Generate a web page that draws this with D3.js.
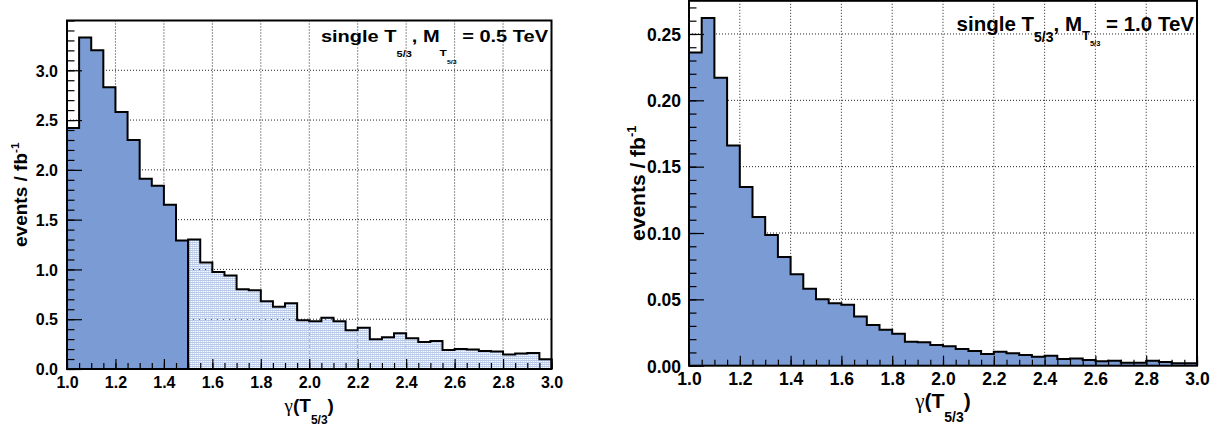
<!DOCTYPE html>
<html><head><meta charset="utf-8">
<script src="https://cdn.jsdelivr.net/npm/d3@7/dist/d3.min.js"></script>
<style>
body{margin:0;background:#fff;}
svg{display:block;font-family:"Liberation Sans",Arial,sans-serif;font-weight:bold;}
</style></head><body>
<svg id="chart" width="1222" height="429"></svg>
<script>
// ---- data ----
const binEdges = [1.00,1.05,1.10,1.15,1.20,1.25,1.30,1.35,1.40,1.45,1.50,1.55,1.60,1.65,1.70,1.75,1.80,1.85,1.90,1.95,
                  2.00,2.05,2.10,2.15,2.20,2.25,2.30,2.35,2.40,2.45,2.50,2.55,2.60,2.65,2.70,2.75,2.80,2.85,2.90,2.95,3.00];
// single T5/3, M = 0.5 TeV (events / fb^-1)
const leftValues = [2.42,3.33,3.20,2.83,2.58,2.30,1.91,1.84,1.65,1.29,
                    1.30,1.07,0.975,0.94,0.80,0.79,0.68,0.625,0.66,0.49,
                    0.48,0.515,0.48,0.39,0.415,0.30,0.32,0.36,0.31,0.27,
                    0.28,0.19,0.20,0.195,0.18,0.175,0.145,0.155,0.16,0.097];
const leftSplit = 1.5;   // gamma below this: solid fill, above: hatched
// single T5/3, M = 1.0 TeV (events / fb^-1)
const rightValues = [0.236,0.262,0.217,0.166,0.1346,0.112,0.0985,0.082,0.069,0.058,
                     0.050,0.047,0.046,0.037,0.0306,0.027,0.024,0.018,0.0176,0.0156,
                     0.0146,0.0126,0.011,0.0088,0.0105,0.0093,0.008,0.0068,0.0075,0.005,
                     0.0055,0.0043,0.0033,0.0038,0.0023,0.0023,0.0038,0.0028,0.0018,0.0018];
const xMajorTicks = [1.0,1.2,1.4,1.6,1.8,2.0,2.2,2.4,2.6,2.8,3.0];
const xTickLabels = ["1.0","1.2","1.4","1.6","1.8","2.0","2.2","2.4","2.6","2.8","3.0"];
const leftYTicks = [0,0.5,1.0,1.5,2.0,2.5,3.0];
const leftYTickLabels = ["0.0","0.5","1.0","1.5","2.0","2.5","3.0"];
const rightYTicks = [0,0.05,0.10,0.15,0.20,0.25];
const rightYTickLabels = ["0.00","0.05","0.10","0.15","0.20","0.25"];
const leftMass = "0.5";
const rightMass = "1.0";
const yTitle = "events / fb";
const ySup = "-1";

// ---- drawing ----
const svg = d3.select("#chart");
const defs = svg.append("defs");
const pat = defs.append("pattern").attr("id","hatch").attr("patternUnits","userSpaceOnUse")
  .attr("width",2).attr("height",2);
pat.append("rect").attr("x",0).attr("y",0).attr("width",2).attr("height",1).attr("fill","#b9c9ea");
pat.append("rect").attr("x",0).attr("y",1).attr("width",1).attr("height",1).attr("fill","#d3def3");

const SOLID = "#7a9bd3";

function drawPanel(cfg){
  const g = svg.append("g");
  const x = d3.scaleLinear().domain([1,3]).range([cfg.x0,cfg.x1]);
  const y = d3.scaleLinear().domain([0,cfg.ymax]).range([cfg.yb,cfg.yt]);

  // grid
  g.selectAll(".gx").data(xMajorTicks.filter(t=>t>1.001 && t<2.999)).enter().append("line")
    .attr("x1",d=>x(d)).attr("x2",d=>x(d)).attr("y1",cfg.yt).attr("y2",cfg.yb)
    .attr("stroke","#222").attr("stroke-width",1).attr("stroke-dasharray","1,2");
  g.selectAll(".gy").data(cfg.yTicks.filter(t=>t>0)).enter().append("line")
    .attr("x1",cfg.x0).attr("x2",cfg.x1).attr("y1",d=>y(d)).attr("y2",d=>y(d))
    .attr("stroke","#222").attr("stroke-width",1).attr("stroke-dasharray","1,2");

  const line = d3.line().x(d=>x(d[0])).y(d=>y(d[1]));
  function stepPts(vals,i0,i1){
    const pts=[[binEdges[i0],0]];
    for(let i=i0;i<i1;i++){pts.push([binEdges[i],vals[i]]);pts.push([binEdges[i+1],vals[i]]);}
    pts.push([binEdges[i1],0]);
    return pts;
  }
  cfg.segments.forEach(s=>{
    const pts = stepPts(cfg.values,s.i0,s.i1);
    g.append("path").attr("d",line(pts)+"Z").attr("fill",s.fill).attr("stroke","none");
  });
  cfg.segments.forEach(s=>{
    const pts = stepPts(cfg.values,s.i0,s.i1);
    g.append("path").attr("d",line(pts)).attr("fill","none").attr("stroke","#000")
      .attr("stroke-width",2).attr("stroke-linejoin","miter");
  });

  // axes
  const minorX = d3.range(1,3.0001,0.05);
  const ax1 = g.append("g").attr("transform",`translate(0,${cfg.yb})`)
    .call(d3.axisBottom(x).tickValues(minorX).tickSize(-6).tickFormat(""));
  const ax2 = g.append("g").attr("transform",`translate(0,${cfg.yb})`)
    .call(d3.axisBottom(x).tickValues(xMajorTicks).tickSize(-10).tickPadding(0)
      .tickFormat((d,i)=>xTickLabels[i]));
  ax2.selectAll("text").attr("y",cfg.xLabelDy).attr("dy",0)
    .attr("font-size",cfg.tickFont).attr("font-family","Liberation Sans, Arial, sans-serif")
    .attr("font-weight","bold").attr("fill","#000");
  const minorY = d3.range(0,cfg.ymax+1e-9,cfg.yMinor);
  const ay1 = g.append("g").attr("transform",`translate(${cfg.x0},0)`)
    .call(d3.axisLeft(y).tickValues(minorY).tickSize(-7.5).tickFormat(""));
  const ay2 = g.append("g").attr("transform",`translate(${cfg.x0},0)`)
    .call(d3.axisLeft(y).tickValues(cfg.yTicks).tickSize(-15).tickPadding(cfg.yPad)
      .tickFormat((d,i)=>cfg.yLabels[i]));
  ay2.selectAll("text").attr("dy","0.36em")
    .attr("font-size",cfg.tickFont).attr("font-family","Liberation Sans, Arial, sans-serif")
    .attr("font-weight","bold").attr("fill","#000");
  [ax1,ax2,ay1,ay2].forEach(a=>{a.select(".domain").remove();a.selectAll("line").attr("stroke","#000").attr("stroke-width",1.2);});

  // frame
  g.append("rect").attr("x",cfg.x0).attr("y",cfg.yt).attr("width",cfg.x1-cfg.x0).attr("height",cfg.yb-cfg.yt)
    .attr("fill","none").attr("stroke","#000").attr("stroke-width",2);

  // title
  const t = g.append("text").attr("text-anchor","end").style("white-space","pre")
    .attr("transform",`translate(${cfg.titleX},${cfg.titleY}) scale(1,${cfg.titleScale})`)
    .attr("font-size",cfg.titleFont);
  const T = cfg.title;
  t.append("tspan").text("single T");
  t.append("tspan").attr("font-size",T.s1).attr("dy",T.d1).text("5/3");
  t.append("tspan").attr("font-size",cfg.titleFont).attr("dy",-T.d1).text(", M");
  t.append("tspan").attr("font-size",T.s2).attr("dy",T.d2).text("T");
  t.append("tspan").attr("font-size",T.s3).attr("dy",T.d3).text("5/3");
  t.append("tspan").attr("font-size",cfg.titleFont).attr("dy",-(T.d2+T.d3)).text(" = "+cfg.mass+" TeV");

  // y title
  const yt = g.append("text").attr("text-anchor","middle")
    .attr("transform",`translate(${cfg.yTitleX},${(cfg.yt+cfg.yb)/2}) rotate(-90)`)
    .attr("font-size",cfg.axisFont);
  yt.append("tspan").text(yTitle);
  yt.append("tspan").attr("font-size",cfg.axisFont*0.62).attr("dy",-cfg.axisFont*0.42).text(ySup);

  // x title
  const xt = g.append("text").attr("text-anchor","middle")
    .attr("x",(cfg.x0+cfg.x1)/2).attr("y",cfg.xTitleY).attr("font-size",cfg.axisFont);
  xt.append("tspan").attr("font-family","Liberation Serif, serif").attr("font-weight","normal").text("γ");
  xt.append("tspan").text("(T");
  xt.append("tspan").attr("font-size",cfg.xSubFont).attr("dy",cfg.xSubDy).text("5/3");
  xt.append("tspan").attr("dy",-cfg.xSubDy).text(")");
}

drawPanel({x0:67,x1:551.5,yt:20.5,yb:369,ymax:3.5,yTicks:leftYTicks,yLabels:leftYTickLabels,yMinor:0.1,
  values:leftValues,
  segments:[{i0:0,i1:binEdges.indexOf(leftSplit),fill:SOLID},{i0:binEdges.indexOf(leftSplit),i1:binEdges.length-1,fill:"url(#hatch)"}],
  tickFont:16,xLabelDy:19,yPad:9,
  titleX:548,titleY:41.7,titleScale:0.8,titleFont:20,mass:leftMass,
  title:{s1:11,d1:19,s2:12,d2:18.5,s3:7,d3:9.5},
  axisFont:19,yTitleX:26.5,xTitleY:412,xSubFont:12,xSubDy:12},);

drawPanel({x0:689,x1:1197,yt:0.8,yb:365.7,ymax:0.275,yTicks:rightYTicks,yLabels:rightYTickLabels,yMinor:0.01,
  values:rightValues,
  segments:[{i0:0,i1:binEdges.length-1,fill:SOLID}],
  tickFont:17.5,xLabelDy:19.5,yPad:8,
  titleX:1194,titleY:31,titleScale:1,titleFont:20.5,mass:rightMass,
  title:{s1:14,d1:11,s2:13,d2:8.6,s3:7.5,d3:6.4},
  axisFont:21,yTitleX:645,xTitleY:408,xSubFont:14,xSubDy:13.7});
</script>
</body></html>
